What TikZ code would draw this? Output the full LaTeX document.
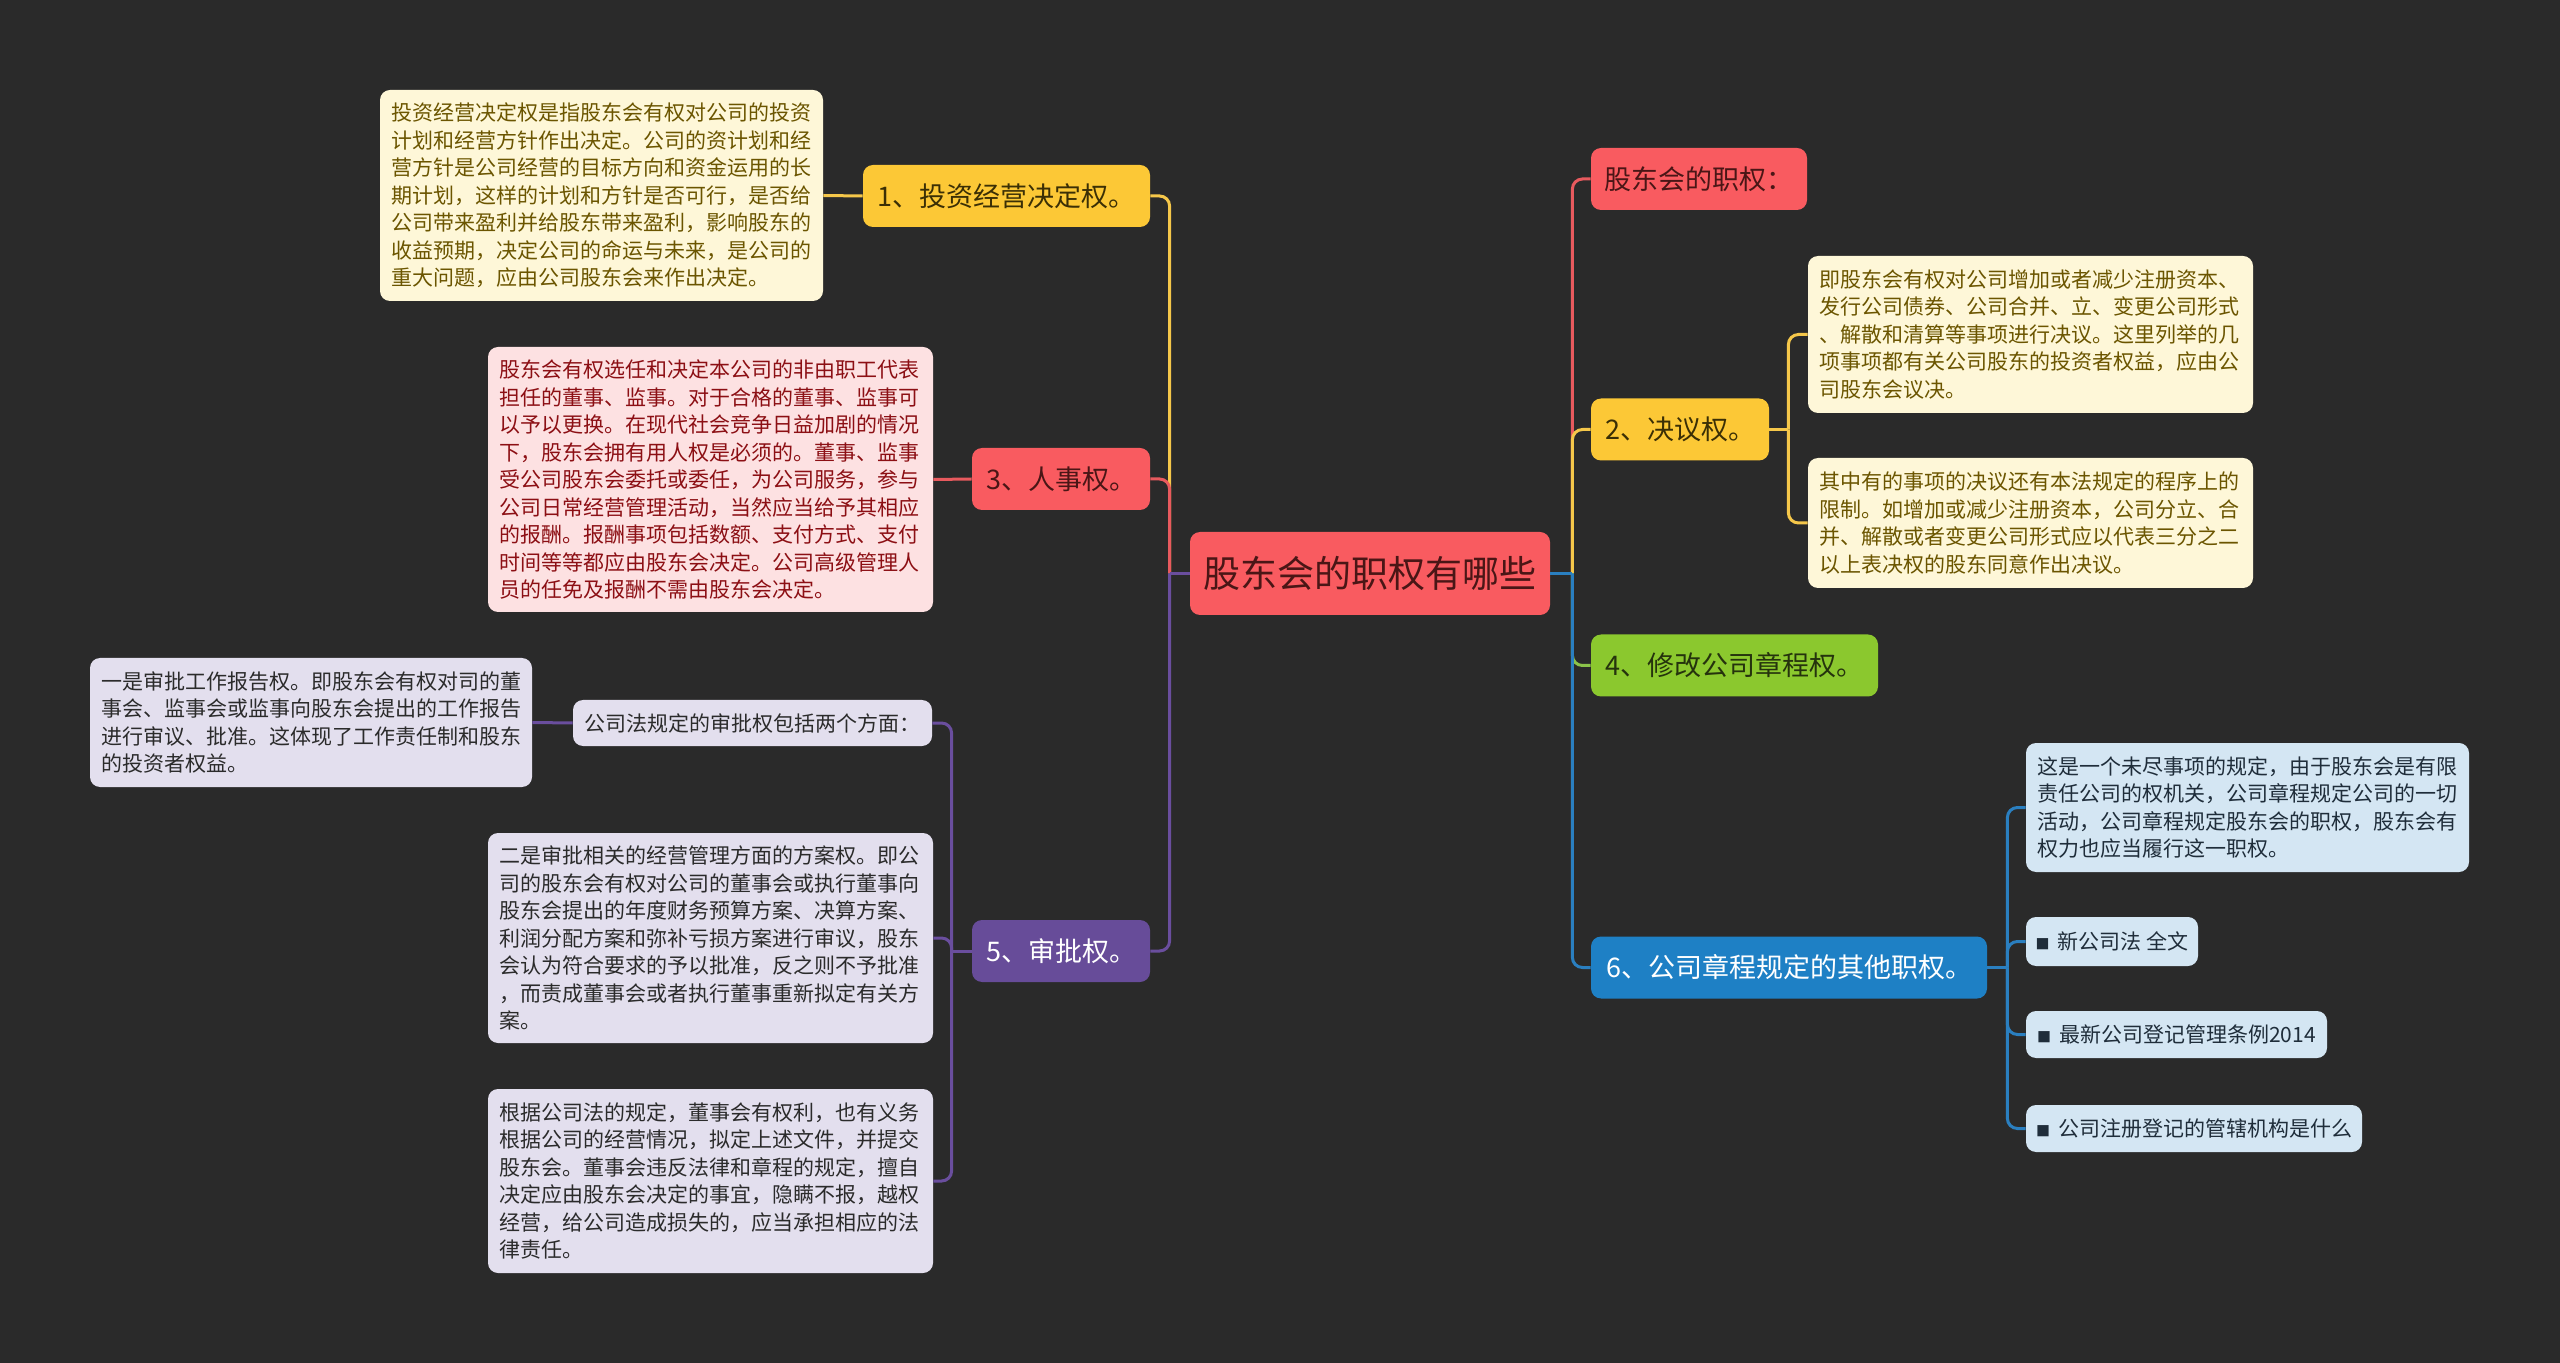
\documentclass[tikz,border=0pt]{standalone}
\usepackage{fontspec}
\setmainfont{Noto Sans CJK SC}
\usetikzlibrary{calc}
\definecolor{bg}{HTML}{2A2A2A}
\definecolor{cred}{HTML}{F95B60}
\definecolor{cyel}{HTML}{FCC836}
\definecolor{cpur}{HTML}{674C99}
\definecolor{cgrn}{HTML}{8BC82E}
\definecolor{cblu}{HTML}{1E80C5}
\definecolor{lred}{HTML}{E85A5E}
\definecolor{lyel}{HTML}{F5C74A}
\definecolor{lpur}{HTML}{6A4E9E}
\definecolor{lgrn}{HTML}{8BC34A}
\definecolor{lblu}{HTML}{2A7FC0}
\definecolor{fcream}{HTML}{FEF7D8}
\definecolor{fpink}{HTML}{FDE1E2}
\definecolor{flav}{HTML}{E3DFEE}
\definecolor{flblu}{HTML}{D4E6F3}
\definecolor{tcream}{HTML}{6B5500}
\definecolor{tpink}{HTML}{8C0F14}
\definecolor{tlav}{HTML}{2B2B2B}
\definecolor{tlblu}{HTML}{1F2D3A}
\definecolor{tredd}{HTML}{4A1616}
\definecolor{tyel}{HTML}{3B2F05}
\definecolor{tgrn}{HTML}{25330D}
\newcommand{\itemsq}{{\fontsize{7pt}{7pt}\selectfont ■}\hspace{4pt}}
\begin{document}
\begin{tikzpicture}[x=0.5pt,y=-0.5pt,
  box/.style={rounded corners=5pt, inner sep=0pt, align=center},
  branch/.style={box, minimum height=31pt, font=\fontsize{13.5pt}{16pt}\selectfont},
  subnode/.style={box, font=\fontsize{10.5pt}{13.75pt}\selectfont},
  detail/.style={rounded corners=5pt, inner xsep=5.5pt, inner ysep=0pt, align=left, font=\fontsize{10.5pt}{13.75pt}\selectfont},
  conn/.style={line width=1.5pt, rounded corners=5pt}]
\fill[bg] (0,0) rectangle (2560,1363);
\useasboundingbox (0,0) rectangle (2560,1363);

% root
\node[box, fill=cred, text=tredd, minimum width=180pt, minimum height=41.5pt, font=\fontsize{18.5pt}{20pt}\selectfont] (root) at (1370,573.5) {股东会的职权有哪些};

% left branches
\node[branch, fill=cyel, text=tyel, minimum width=143.5pt] (b1) at (1006.5,196) {1、投资经营决定权。};
\node[branch, fill=cred, text=tredd, minimum width=89pt] (b3) at (1061,479) {3、人事权。};
\node[branch, fill=cpur, text=white, minimum width=89pt] (b5) at (1061,951) {5、审批权。};

% right branches
\node[branch, fill=cred, text=tredd, minimum width=108pt] (r0) at (1699,179) {股东会的职权：};
\node[branch, fill=cyel, text=tyel, minimum width=89pt] (b2) at (1680,429.5) {2、决议权。};
\node[branch, fill=cgrn, text=tgrn, minimum width=143.5pt] (b4) at (1734.5,665.5) {4、修改公司章程权。};
\node[branch, fill=cblu, text=white, minimum width=198pt] (b6) at (1789,967.5) {6、公司章程规定的其他职权。};

% details left
\node[detail, fill=fcream, text=tcream, text width=210.5pt, minimum height=105.5pt] (d1) at (601.5,195.5) {投资经营决定权是指股东会有权对公司的投资\\计划和经营方针作出决定。公司的资计划和经\\营方针是公司经营的目标方向和资金运用的长\\期计划，这样的计划和方针是否可行，是否给\\公司带来盈利并给股东带来盈利，影响股东的\\收益预期，决定公司的命运与未来，是公司的\\重大问题，应由公司股东会来作出决定。};

\node[detail, fill=fpink, text=tpink, text width=211.5pt, minimum height=132.5pt] (d3) at (710.5,479.5) {股东会有权选任和决定本公司的非由职工代表\\担任的董事、监事。对于合格的董事、监事可\\以予以更换。在现代社会竞争日益加剧的情况\\下，股东会拥有用人权是必须的。董事、监事\\受公司股东会委托或委任，为公司服务，参与\\公司日常经营管理活动，当然应当给予其相应\\的报酬。报酬事项包括数额、支付方式、支付\\时间等等都应由股东会决定。公司高级管理人\\员的任免及报酬不需由股东会决定。};

\node[subnode, fill=flav, text=tlav, minimum width=179.5pt, minimum height=23pt] (s1) at (752.5,723) {公司法规定的审批权包括两个方面：};

\node[detail, fill=flav, text=tlav, text width=210pt, minimum height=64.5pt] (d5a) at (311,722.5) {一是审批工作报告权。即股东会有权对司的董\\事会、监事会或监事向股东会提出的工作报告\\进行审议、批准。这体现了工作责任制和股东\\的投资者权益。};

\node[detail, fill=flav, text=tlav, text width=211.5pt, minimum height=105pt] (d5b) at (710.5,938) {二是审批相关的经营管理方面的方案权。即公\\司的股东会有权对公司的董事会或执行董事向\\股东会提出的年度财务预算方案、决算方案、\\利润分配方案和弥补亏损方案进行审议，股东\\会认为符合要求的予以批准，反之则不予批准\\，而责成董事会或者执行董事重新拟定有关方\\案。};

\node[detail, fill=flav, text=tlav, text width=211.5pt, minimum height=92pt] (d5c) at (710.5,1181) {根据公司法的规定，董事会有权利，也有义务\\根据公司的经营情况，拟定上述文件，并提交\\股东会。董事会违反法律和章程的规定，擅自\\决定应由股东会决定的事宜，隐瞒不报，越权\\经营，给公司造成损失的，应当承担相应的法\\律责任。};

% details right
\node[detail, fill=fcream, text=tcream, text width=211.5pt, minimum height=78.5pt] (d2a) at (2030.5,334.5) {即股东会有权对公司增加或者减少注册资本、\\发行公司债券、公司合并、立、变更公司形式\\、解散和清算等事项进行决议。这里列举的几\\项事项都有关公司股东的投资者权益，应由公\\司股东会议决。};

\node[detail, fill=fcream, text=tcream, text width=211.5pt, minimum height=65pt] (d2b) at (2030.5,523) {其中有的事项的决议还有本法规定的程序上的\\限制。如增加或减少注册资本，公司分立、合\\并、解散或者变更公司形式应以代表三分之二\\以上表决权的股东同意作出决议。};

\node[detail, fill=flblu, text=tlblu, text width=210.5pt, minimum height=64.5pt] (d6a) at (2247.5,807.5) {这是一个未尽事项的规定，由于股东会是有限\\责任公司的权机关，公司章程规定公司的一切\\活动，公司章程规定股东会的职权，股东会有\\权力也应当履行这一职权。};

\node[subnode, fill=flblu, text=tlblu, minimum width=86pt, minimum height=24.5pt] (i1) at (2112,941.5) {\itemsq 新公司法 全文};
\node[subnode, fill=flblu, text=tlblu, minimum width=150.5pt, minimum height=23.5pt] (i2) at (2176.5,1034.5) {\itemsq 最新公司登记管理条例2014};
\node[subnode, fill=flblu, text=tlblu, minimum width=168pt, minimum height=23.5pt] (i3) at (2194,1128.5) {\itemsq 公司注册登记的管辖机构是什么};

% connectors left of root
\coordinate (lt) at ($(root.west)+(-20,0)$);
\draw[conn, lyel] (lt) |- (b1.east);
\draw[conn, lred] (lt) |- (b3.east);
\draw[conn, lpur] (lt) |- (b5.east);
\draw[conn, lpur] (root.west) -- (lt);

% connectors right of root
\coordinate (rt) at ($(root.east)+(22,0)$);
\draw[conn, lred] (rt) |- (r0.west);
\draw[conn, lyel] (rt) |- (b2.west);
\draw[conn, lgrn] (rt) |- (b4.west);
\draw[conn, lblu] (rt) |- (b6.west);
\draw[conn, lblu] (root.east) -- (rt);

% branch 1 and 3
\draw[conn, lyel] (b1.west) -- (d1.east);
\draw[conn, lred] (b3.west) -- (d3.east);

% branch 5
\coordinate (t5) at ($(b5.west)+(-20,0)$);
\draw[conn, lpur] (b5.west) -- (t5);
\draw[conn, lpur] (t5) |- (s1.east);
\draw[conn, lpur] (t5) |- (d5b.east);
\draw[conn, lpur] (t5) |- (d5c.east);
\draw[conn, lpur] (s1.west) -- (d5a.east);

% branch 2
\coordinate (t2) at ($(b2.east)+(19,0)$);
\draw[conn, lyel] (b2.east) -- (t2);
\draw[conn, lyel] (t2) |- (d2a.west);
\draw[conn, lyel] (t2) |- (d2b.west);

% branch 6
\coordinate (t6) at ($(b6.east)+(20,0)$);
\draw[conn, lblu] (b6.east) -- (t6);
\draw[conn, lblu] (t6) |- (d6a.west);
\draw[conn, lblu] (t6) |- (i1.west);
\draw[conn, lblu] (t6) |- (i2.west);
\draw[conn, lblu] (t6) |- (i3.west);
\end{tikzpicture}
\end{document}
